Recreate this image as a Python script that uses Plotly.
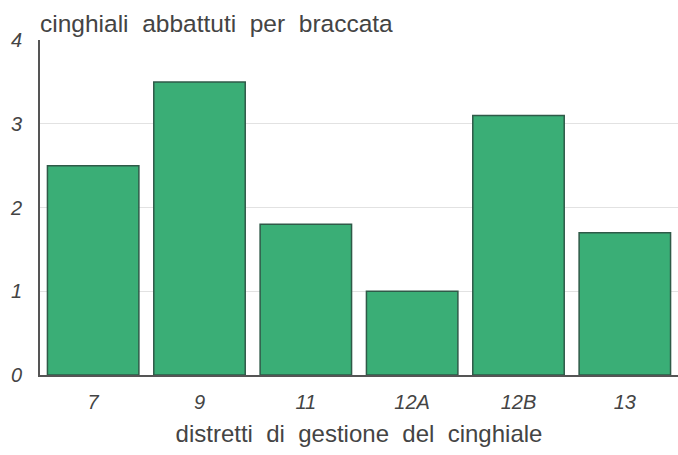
import plotly.graph_objects as go

categories = ["7", "9", "11", "12A", "12B", "13"]
values = [2.5, 3.5, 1.8, 1.0, 3.1, 1.7]
y_ticks = [0, 1, 2, 3, 4]

fig = go.Figure(go.Bar(
    x=categories, y=values,
    marker=dict(color="#3aae76", line=dict(color="#2f5a48", width=1.5)),
))

fig.update_layout(
    width=678, height=455,
    margin=dict(l=40, r=0, t=40, b=80),
    plot_bgcolor="white", paper_bgcolor="white",
    bargap=0.14,
    showlegend=False,
    font=dict(family="Liberation Sans, Arial", color="#444"),
    annotations=[dict(
        text="cinghiali  abbattuti  per  braccata",
        xref="paper", yref="paper", x=0, y=1, xanchor="left", yanchor="bottom",
        yshift=1, xshift=-2, showarrow=False, font=dict(size=24.5, color="#444"),
    )],
)
fig.update_xaxes(
    type="category",
    tickfont=dict(size=20, style="italic", color="#444"),
    title=dict(text="distretti  di  gestione  del  cinghiale", font=dict(size=24, color="#444"), standoff=13),
    showline=True, linecolor="#555", linewidth=2,
    ticks="outside", ticklen=8, tickcolor="rgba(0,0,0,0)",
)
fig.update_yaxes(
    range=[0, 4], tickvals=y_ticks,
    tickfont=dict(size=20, style="italic", color="#444"),
    showgrid=True, gridcolor="#e2e2e2", gridwidth=1,
    showline=True, linecolor="#555", linewidth=2,
    ticks="outside", ticklen=12, tickcolor="rgba(0,0,0,0)",
    zeroline=False,
)

fig.write_html("out.html")
